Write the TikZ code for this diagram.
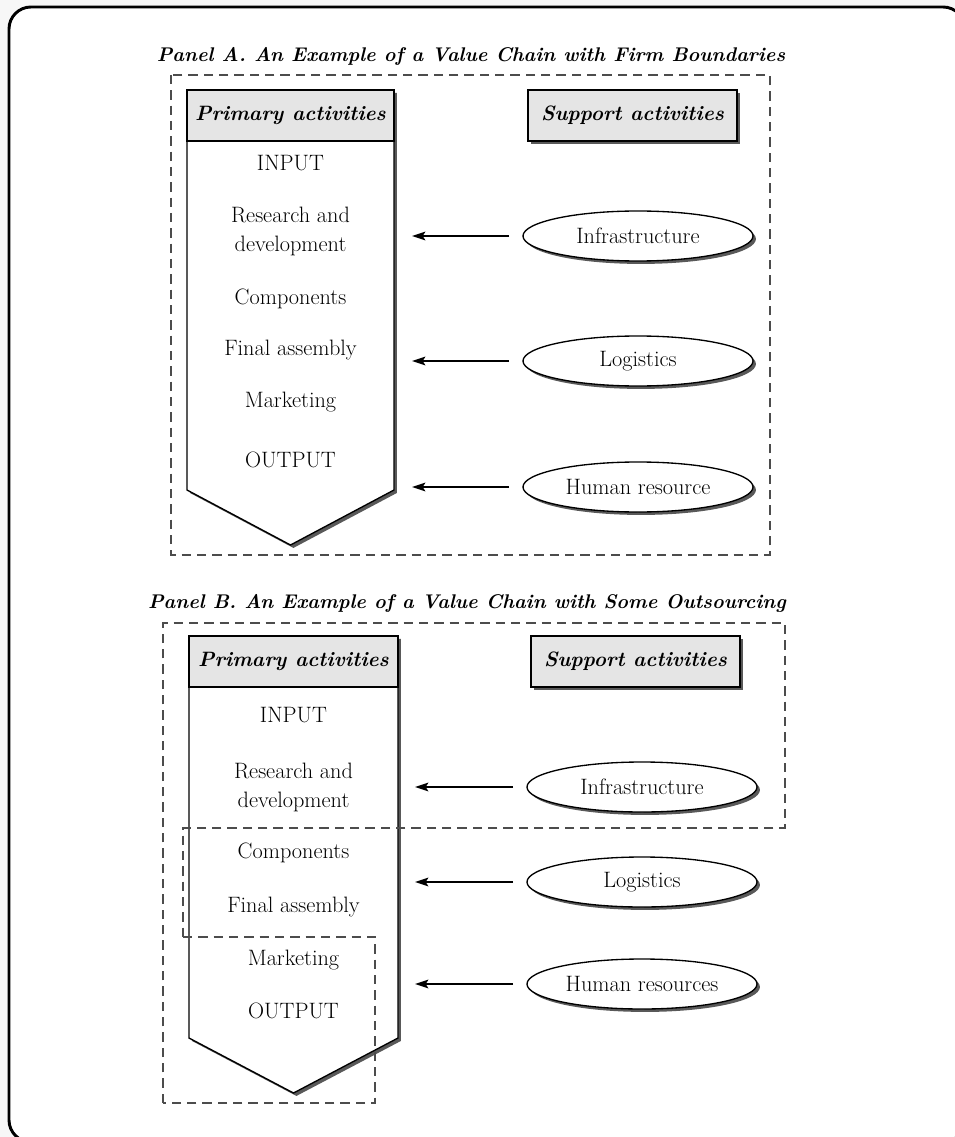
\documentclass[tikz,border=0pt]{standalone}
\usepackage{fontspec}
\usetikzlibrary{arrows.meta,shapes.geometric,shadows}
\begin{document}
\begin{tikzpicture}[x=0.75pt,y=-0.75pt,
  body/.style={font=\fontsize{16.7}{21.75}\selectfont, align=center, inner sep=0pt},
  line/.style={font=\fontsize{16.7}{21.75}\selectfont, inner sep=0pt, text height=11.5pt, text depth=3pt},
  paneltitle/.style={font=\fontsize{14.85}{17}\selectfont\bfseries\itshape, inner sep=0pt},
  headtext/.style={font=\fontsize{15.6}{17}\selectfont\bfseries\itshape, inner sep=0pt},
  boxshadow/.style={drop shadow={shadow xshift=2.2pt, shadow yshift=-2.2pt, fill=black!65, opacity=1}},
  chain/.style={draw=black, line width=1pt, fill=white, boxshadow},
  headfill/.style={draw=black, line width=1pt, fill=gray!20},
  supbox/.style={draw=black, line width=1pt, fill=gray!20, boxshadow, minimum width=156.75pt, minimum height=38.25pt, inner sep=0pt, font=\fontsize{15.6}{17}\selectfont\bfseries\itshape},
  oval/.style={ellipse, draw=black, line width=1pt, fill=white, boxshadow, minimum width=172.5pt, minimum height=37.5pt, inner sep=0pt, font=\fontsize{16.7}{18}\selectfont},
  boundary/.style={draw=gray!60!black, line width=0.9pt, dash pattern=on 7pt off 4.5pt},
  arr/.style={line width=1.3pt, -{Stealth[length=10pt,width=6.5pt,inset=2pt]}, shorten <=10pt}
]
\useasboundingbox (0,0) rectangle (955,1137);
\clip (0,0) rectangle (955,1137);
% page and outer frame
\fill[gray!6] (0,0) rectangle (955,1137);
\draw[line width=2.2pt, rounded corners=16.5pt, fill=white] (9,7) rectangle (965,1142);

% ---------------- Panel A ----------------
\node[paneltitle] (titleA) at (471,56) {Panel A. An Example of a Value Chain with Firm Boundaries};
\draw[boundary] (171,75) rectangle (770,555);

\path[chain] (187,90) -- (394,90) -- (394,490) -- (290.5,545) -- (187,490) -- cycle;
\draw[headfill] (187,90) rectangle (394,141);
\node[headtext] (primA) at (290.5,115.5) {Primary activities};
\node[line] (inA)  at (290.5,165) {INPUT};
\node[body] (rdA)  at (290.5,231.5) {Research and\\development};
\node[line] (coA)  at (290.5,299) {Components};
\node[line] (faA)  at (290.5,350) {Final assembly};
\node[line] (mkA)  at (290.5,402) {Marketing};
\node[line] (outA) at (290.5,462) {OUTPUT};

\node[supbox] (supA) at (632.5,115.5) {Support activities};
\node[oval] (infA) at (638,236) {Infrastructure};
\node[oval] (logA) at (638,361) {Logistics};
\node[oval] (hrA)  at (638,487) {Human resource};

\coordinate (tipA) at (412,300);
\draw[arr] (infA.west) -- (infA.west -| tipA);
\draw[arr] (logA.west) -- (logA.west -| tipA);
\draw[arr] (hrA.west)  -- (hrA.west -| tipA);

% ---------------- Panel B ----------------
\node[paneltitle] (titleB) at (467,603) {Panel B. An Example of a Value Chain with Some Outsourcing};

\path[chain] (189,636) -- (398,636) -- (398,1038) -- (293.5,1093) -- (189,1038) -- cycle;
\draw[headfill] (189,636) rectangle (398,687);
\node[headtext] (primB) at (293.5,661.5) {Primary activities};
\node[line] (inB)  at (293.5,717) {INPUT};
\node[body] (rdB)  at (293.5,787) {Research and\\development};
\node[line] (coB)  at (293.5,853) {Components};
\node[line] (faB)  at (293.5,907) {Final assembly};
\node[line] (mkB)  at (293.5,960) {Marketing};
\node[line] (outB) at (293.5,1013) {OUTPUT};

% firm boundaries after outsourcing
\draw[boundary] (163,1103) -- (163,623) -- (785,623) -- (785,828) -- (183,828) -- (183,937);
\draw[boundary] (183,937) -- (375,937) -- (375,1103) -- (163,1103);

\node[supbox] (supB) at (635.5,661.5) {Support activities};
\node[oval] (infB) at (642,787) {Infrastructure};
\node[oval] (logB) at (642,882) {Logistics};
\node[oval] (hrB)  at (642,984) {Human resources};

\coordinate (tipB) at (415,850);
\draw[arr] (infB.west) -- (infB.west -| tipB);
\draw[arr] (logB.west) -- (logB.west -| tipB);
\draw[arr] (hrB.west)  -- (hrB.west -| tipB);
\end{tikzpicture}
\end{document}
